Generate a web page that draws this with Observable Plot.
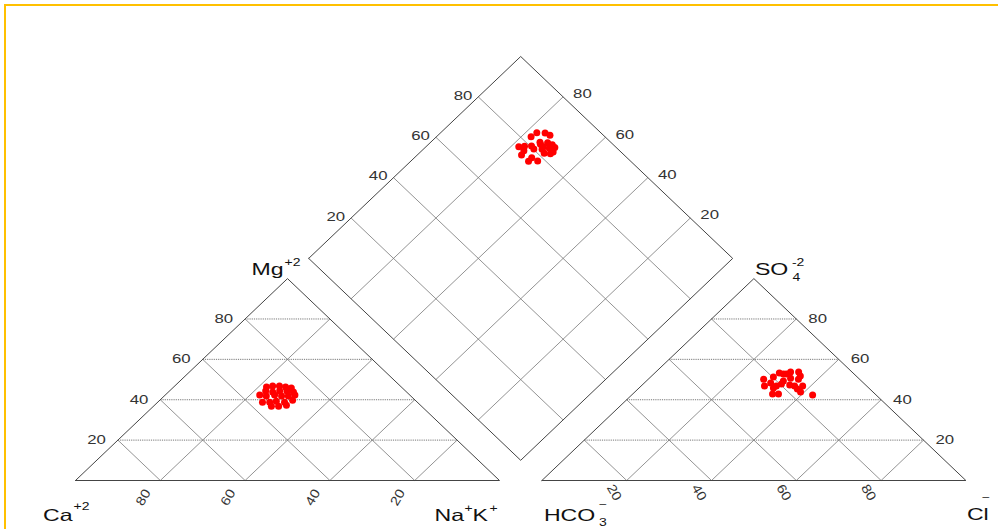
<!DOCTYPE html>
<html>
<head>
<meta charset="utf-8">
<script src="https://cdn.jsdelivr.net/npm/d3@7"></script>
<script src="https://cdn.jsdelivr.net/npm/@observablehq/plot@0.6"></script>
<style>
  html, body { margin: 0; padding: 0; background: #fff; overflow: hidden; }
  #chart { position: absolute; left: 0; top: 0; }
  #frame { position: absolute; left: 4px; top: 4px; width: 1200px; height: 800px;
           border-top: 2px solid #FFC000; border-left: 2px solid #FFC000; pointer-events: none; }
</style>
</head>
<body>
<div id="chart"></div>
<div id="frame"></div>
<script>
// Major-ion composition of each water sample, % of total meq/L
const caPct   = [31.8,30.1,28.5,27.3,26.2,33.0,31.6,29.7,28.0,26.7,35.4,34.1,31.9,30.5,28.9,27.1,36.5,34.8,33.0,31.3,28.9,35.4,33.7,31.6];
const mgPct   = [46.3,46.8,46.8,46.3,45.8,44.3,43.8,44.3,44.3,43.8,42.3,41.8,42.3,41.8,41.8,42.3,38.8,38.8,39.3,38.8,39.8,36.8,36.8,37.3];
const naKPct  = [21.9,23.1,24.7,26.4,28.0,22.7,24.6,26.0,27.7,29.5,22.3,24.1,25.8,27.7,29.3,30.6,24.7,26.4,27.7,29.9,31.3,27.8,29.5,31.1];
const hco3Pct = [22.8,21.3,13.2,17.1,17.9,15.1,24.2,19.8,22.5,18.4,17.4,22.6,16.7,15.0,14.4,14.5,19.6,12.6,17.0,21.9,16.0,24.1,16.0,17.1];
const so4Pct  = [42.8,46.8,51.7,43.8,47.3,46.8,42.8,51.2,45.8,49.3,53.2,50.2,52.7,42.3,50.2,53.7,47.8,53.7,46.8,48.3,52.7,46.8,50.7,45.3];
const clPct   = [34.4,31.9,35.1,39.1,34.8,38.1,33.0,29.0,31.7,32.3,29.4,27.2,30.6,42.7,35.4,31.8,32.6,33.7,36.2,29.8,31.3,29.1,33.3,37.6];

// Grid percentages and their labels
const gridTicks  = [20, 40, 60, 80];
const tickLabels = ["20", "40", "60", "80"];

// Piper geometry: two ternary triangles of side 100 separated by a gap,
// with the diamond projected above them.
const H = Math.sqrt(3) / 2;
const GAP = 10;
const cation  = (ca, mg, na)    => ({x: na + mg / 2, y: mg * H});
const anion   = (hco3, so4, cl) => ({x: 100 + GAP + cl + so4 / 2, y: so4 * H});
const diamond = (na, s)         => ({x: 50 + GAP / 2 + (na + s) / 2, y: H * (100 + GAP + s - na)});
const seg = (p, q) => ({x1: p.x, y1: p.y, x2: q.x, y2: q.y});

// Grid segments
const levelLines = [];   // horizontal lines (Mg, SO4)
const slantLines = [];   // oblique lines in the triangles and the diamond
for (const t of gridTicks) {
  levelLines.push(seg(cation(100 - t, t, 0), cation(0, t, 100 - t)));
  levelLines.push(seg(anion(100 - t, t, 0), anion(0, t, 100 - t)));
  slantLines.push(seg(cation(100 - t, 0, t), cation(0, 100 - t, t)));
  slantLines.push(seg(cation(t, 0, 100 - t), cation(t, 100 - t, 0)));
  slantLines.push(seg(anion(100 - t, 0, t), anion(0, 100 - t, t)));
  slantLines.push(seg(anion(t, 0, 100 - t), anion(t, 100 - t, 0)));
  slantLines.push(seg(diamond(t, 0), diamond(t, 100)));
  slantLines.push(seg(diamond(0, t), diamond(100, t)));
}

// Outlines of the three fields
const outlines = [
  ...[cation(100,0,0), cation(0,0,100), cation(0,100,0), cation(100,0,0)].map(p => ({...p, shape: "cations"})),
  ...[anion(100,0,0), anion(0,0,100), anion(0,100,0), anion(100,0,0)].map(p => ({...p, shape: "anions"})),
  ...[diamond(0,0), diamond(100,0), diamond(100,100), diamond(0,100), diamond(0,0)].map(p => ({...p, shape: "diamond"}))
];

// Axis labels along each edge
const lab = (f) => gridTicks.map((t, i) => ({...f(t), label: tickLabels[i]}));
const caLabels    = lab(t => cation(t, 0, 100 - t));
const mgLabels    = lab(t => cation(100 - t, t, 0));
const clLabels    = lab(t => anion(100 - t, 0, t));
const so4Labels   = lab(t => anion(0, t, 100 - t));
const so4ClLabels = lab(t => diamond(0, t));
const caMgLabels  = lab(t => diamond(100 - t, 100));

// Sample positions
const cationPts  = caPct.map((ca, i) => cation(ca, mgPct[i], naKPct[i]));
const anionPts   = hco3Pct.map((h, i) => anion(h, so4Pct[i], clPct[i]));
const diamondPts = naKPct.map((na, i) => diamond(na, so4Pct[i] + clPct[i]));

const font = "'Liberation Sans', Arial, sans-serif";
const tickStyle = {x: "x", y: "y", text: "label", fontSize: 12, fill: "#333", fontFamily: font};

// Ion names placed at the corners of the triangles
const ion = (pt, text, dx, dy, size, anchor = "start") =>
  Plot.text([pt], {x: "x", y: "y", text: () => text, dx, dy, fontSize: size,
                   textAnchor: anchor, lineAnchor: "bottom", fill: "#111", fontFamily: font});

const plot = Plot.plot({
  width: 998,
  height: 529,
  x: {domain: [0, 210], range: [75, 965.4], axis: null},
  y: {domain: [0, 181.865], range: [480, 56], axis: null},
  style: {background: "#fff", fontFamily: font},
  marks: [
    Plot.link(levelLines, {x1: "x1", y1: "y1", x2: "x2", y2: "y2", stroke: "#777", strokeWidth: 1, strokeDasharray: "1.2,1"}),
    Plot.link(slantLines, {x1: "x1", y1: "y1", x2: "x2", y2: "y2", stroke: "#777", strokeWidth: 0.8}),
    Plot.line(outlines, {x: "x", y: "y", z: "shape", stroke: "#444", strokeWidth: 1}),

    Plot.text(mgLabels,    {...tickStyle, textAnchor: "end",   dx: -12}),
    Plot.text(so4Labels,   {...tickStyle, textAnchor: "start", dx: 12}),
    Plot.text(so4ClLabels, {...tickStyle, textAnchor: "end",   dx: -6, dy: -1}),
    Plot.text(caMgLabels,  {...tickStyle, textAnchor: "start", dx: 10, dy: -2.5}),
    Plot.text(caLabels,    {...tickStyle, fontSize: 13, rotate: -60, dx: -17, dy: 17}),
    Plot.text(clLabels,    {...tickStyle, fontSize: 13, rotate: 60, dx: -12.5, dy: 12}),

    ion(cation(0,100,0), "Mg", -4, -4, 16.5, "end"),
    ion(cation(0,100,0), "+2", -3, -13, 10),
    ion(cation(100,0,0), "Ca", -3, 40, 16.5, "end"),
    ion(cation(100,0,0), "+2", -2, 29, 10),
    ion(cation(0,0,100), "Na", -65, 40, 16.5),
    ion(cation(0,0,100), "+", -35, 31, 10),
    ion(cation(0,0,100), "K", -27, 40, 16.5),
    ion(cation(0,0,100), "+", -10, 31, 10),
    ion(anion(100,0,0), "HCO", 2, 40, 16.5),
    ion(anion(100,0,0), "3", 57, 45, 10),
    ion(anion(100,0,0), "\u2212", 57, 27, 10),
    ion(anion(0,100,0), "SO", 1, -4, 16.5),
    ion(anion(0,100,0), "4", 38.5, 2, 10),
    ion(anion(0,100,0), "-2", 38, -13, 10),
    ion(anion(0,0,100), "Cl", 1, 39, 16.5),
    ion(anion(0,0,100), "\u2212", 16, 20, 10),

    Plot.dot(cationPts,  {x: "x", y: "y", r: 3.5, fill: "#ff0000"}),
    Plot.dot(anionPts,   {x: "x", y: "y", r: 3.5, fill: "#ff0000"}),
    Plot.dot(diamondPts, {x: "x", y: "y", r: 3.5, fill: "#ff0000"})
  ]
});

// Widen the lettering horizontally, in keeping with the stretched plot frame
plot.querySelectorAll("text").forEach(t => {
  const tr = t.getAttribute("transform");
  if (tr) {
    t.setAttribute("transform", tr + (tr.includes("rotate") ? " scale(1.15,1)" : " scale(1.4,1)"));
  } else if (t.hasAttribute("x")) {
    const x = t.getAttribute("x");
    t.removeAttribute("x");
    t.setAttribute("transform", `translate(${x},0) scale(1.4,1)`);
  }
});

document.getElementById("chart").appendChild(plot);
</script>
</body>
</html>
